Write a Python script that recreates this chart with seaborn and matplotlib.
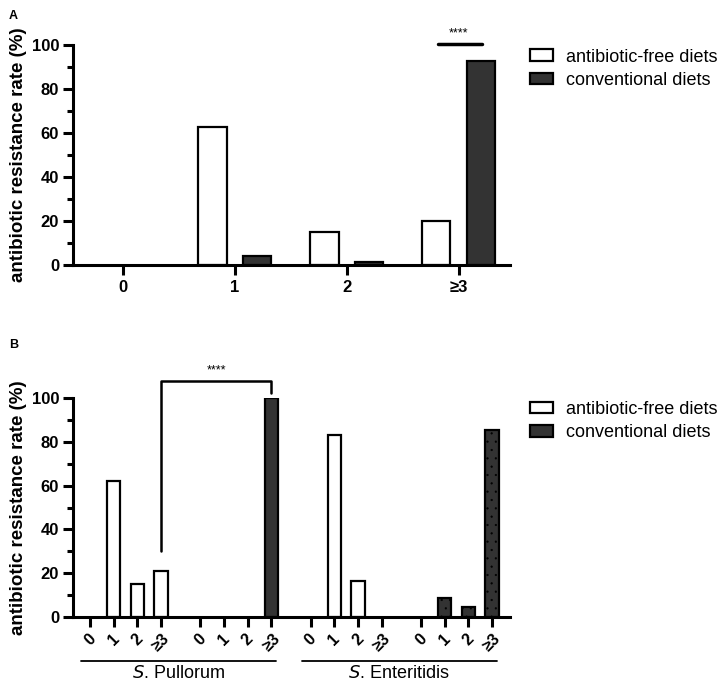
import numpy as np
import pandas as pd
import seaborn as sns
import matplotlib.pyplot as plt
from matplotlib.patches import Patch
from matplotlib.ticker import MultipleLocator

# data
classes = ['0', '1', '2', '≥3']
diets = ['antibiotic-free diets', 'conventional diets']
a_free = [0, 63, 15, 20]
a_conv = [0, 4, 1.5, 93]

serotypes = ['Pullorum', 'Enteritidis']
b_pullorum_free = [0, 62, 15, 21]
b_pullorum_conv = [0, 0, 0, 100]
b_enteritidis_free = [0, 83, 16.5, 0]
b_enteritidis_conv = [0, 9, 4.5, 85.5]

colors = {diets[0]: 'white', diets[1]: '#333333'}

sns.set_theme(style='ticks')
plt.rcParams['font.family'] = ['Liberation Sans', 'DejaVu Sans']
plt.rcParams['hatch.linewidth'] = 0.35
plt.rcParams['text.color'] = 'black'
plt.rcParams['axes.labelcolor'] = 'black'
plt.rcParams['xtick.color'] = 'black'
plt.rcParams['ytick.color'] = 'black'

fig = plt.figure(figsize=(7.22, 6.85), dpi=100)
axA = fig.add_axes([0.101, 0.613, 0.605, 0.321])
axB = fig.add_axes([0.101, 0.0988, 0.605, 0.3206])


def style_axis(ax):
    sns.despine(ax=ax)
    for s in ['left', 'bottom']:
        ax.spines[s].set_linewidth(2.2)
        ax.spines[s].set_color('black')
    ax.set_ylim(0, 100)
    ax.yaxis.set_major_locator(MultipleLocator(20))
    ax.yaxis.set_minor_locator(MultipleLocator(10))
    ax.tick_params(axis='both', which='major', length=7, width=2.2, color='black')
    ax.tick_params(axis='y', which='minor', length=4, width=2.2, color='black')
    ax.tick_params(axis='y', labelsize=12, pad=3)
    for t in ax.get_yticklabels():
        t.set_fontweight('bold')
    ax.set_ylabel('antibiotic resistance rate (%)', fontsize=13.5, fontweight='bold', labelpad=3)
    ax.set_xlabel('')
    ax.set_facecolor('white')
    # empty bars are not drawn in the original
    for p in ax.patches:
        if p.get_height() == 0:
            p.set_visible(False)


# ---- panel A
dfA = pd.DataFrame({
    'cls': classes * 2,
    'rate': a_free + a_conv,
    'diet': [diets[0]] * 4 + [diets[1]] * 4,
})
sns.barplot(data=dfA, x='cls', y='rate', hue='diet', order=classes, hue_order=diets,
            palette=colors, width=0.8, gap=0.37, edgecolor='black', linewidth=1.6,
            legend=False, ax=axA)
axA.set_xlim(-0.446, 3.455)
style_axis(axA)
axA.tick_params(axis='x', labelsize=12, pad=4)
for t in axA.get_xticklabels():
    t.set_fontweight('bold')
# significance
i3 = classes.index('≥3')
axA.plot([i3 - 0.19, i3 + 0.21], [100.5, 100.5], color='black', lw=2.5, clip_on=False)
axA.text(i3, 102.5, '****', ha='center', va='bottom', fontsize=9)

handles = [Patch(facecolor=colors[d], edgecolor='black', linewidth=1.6, label=d) for d in diets]
axA.legend(handles=handles, loc='upper left', bbox_to_anchor=(1.046, 0.985), frameon=False,
           fontsize=13, borderaxespad=0, borderpad=0, handlelength=1.3, handleheight=0.6,
           handletextpad=0.7, labelspacing=0.35)

# ---- panel B
group_step = 4.65
groups = [b_pullorum_free, b_pullorum_conv, b_enteritidis_free, b_enteritidis_conv]
group_diet = [diets[0], diets[1], diets[0], diets[1]]
rows = []
for g, (vals, d) in enumerate(zip(groups, group_diet)):
    for i, v in enumerate(vals):
        rows.append({'pos': g * group_step + i, 'rate': v, 'diet': d, 'group': g})
dfB = pd.DataFrame(rows)

main = dfB[dfB['group'] != 3]
dotted = dfB[dfB['group'] == 3]
sns.barplot(data=main, x='pos', y='rate', hue='diet', hue_order=diets, palette=colors,
            native_scale=True, dodge=False, width=0.57, edgecolor='black', linewidth=1.6,
            legend=False, ax=axB)
sns.barplot(data=dotted, x='pos', y='rate', color=colors[diets[1]], native_scale=True,
            width=0.57, edgecolor='black', linewidth=1.6, hatch='..', ax=axB)

style_axis(axB)
axB.set_xlim(-0.72, 3 * group_step + 3 + 0.745)
axB.set_xticks(dfB['pos'])
axB.set_xticklabels(classes * 4, rotation=45, fontsize=11.5, fontweight='bold')
axB.tick_params(axis='x', pad=3)

# group underlines
trans = axB.get_xaxis_transform()
for k, name in enumerate(serotypes):
    x0 = 2 * k * group_step - 0.38
    x1 = (2 * k + 1) * group_step + 3 + 0.2
    axB.plot([x0, x1], [-0.2, -0.2], color='black', lw=1.3, transform=trans, clip_on=False)
    axB.text((x0 + x1) / 2, -0.218, r'$\it{S}$. ' + name, ha='center', va='top',
             fontsize=13, transform=trans)

# significance bracket
xl = 3
xr = group_step + 3
axB.plot([xl, xl, xr, xr], [30, 107.5, 107.5, 102.3], color='black', lw=1.8, clip_on=False)
axB.text((xl + xr) / 2, 109.5, '****', ha='center', va='bottom', fontsize=9)

axB.legend(handles=handles, loc='upper left', bbox_to_anchor=(1.046, 0.985), frameon=False,
           fontsize=13, borderaxespad=0, borderpad=0, handlelength=1.3, handleheight=0.6,
           handletextpad=0.7, labelspacing=0.35)

fig.text(0.012, 0.985, 'A', fontsize=9, fontweight='bold', va='top')
fig.text(0.012, 0.505, 'B', fontsize=9, fontweight='bold', va='top')

plt.savefig('out.png', dpi=100, facecolor='white')
